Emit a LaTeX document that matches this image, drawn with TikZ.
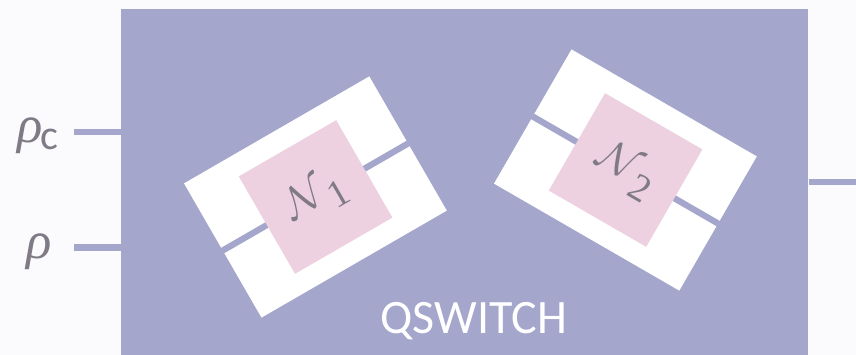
\documentclass[tikz,border=0pt]{standalone}
\usepackage{amsmath,amssymb}
\usepackage{fontspec}
\setmainfont{Carlito}
\newfontfamily\symfont{Liberation Serif}
\usepackage{xcolor}
\usetikzlibrary{positioning}
\definecolor{pagewhite}{HTML}{FBFBFE}
\definecolor{switchblue}{HTML}{A5A6CC}
\definecolor{gatepink}{HTML}{EDD1E0}
\definecolor{labelgray}{HTML}{7F7A85}
\tikzset{
  wire/.style={switchblue,line width=0.125cm},
  switchbox/.style={fill=switchblue,inner sep=0pt,minimum width=13.75cm,minimum height=6.92cm},
  slotbox/.style={fill=white,inner sep=0pt,minimum width=4.28cm,minimum height=3.10cm},
  gatebox/.style={fill=gatepink,inner sep=0pt,minimum size=2.25cm,text=labelgray,font=\fontsize{32}{35}\selectfont},
  inlab/.style={text=labelgray,font=\fontsize{30}{33}\selectfont},
}
\newcommand{\rhosym}{{\symfont\itshape ρ}}
\newcommand{\gatelab}[1]{$\mathcal{N}$\raisebox{-7pt}{\fontsize{22}{24}\selectfont\symfont #1}}

\begin{document}
\begin{tikzpicture}[x=0.02cm,y=-0.02cm]
    \useasboundingbox (0,0) rectangle (856,355);
    \fill[pagewhite] (0,0) rectangle (856,355);
    \node[switchbox] (qswitch) at (464.6,182){};
    % free ends of the wires
    \coordinate (inC) at (74,132);
    \coordinate (inR) at (74,247.5);
    \coordinate (outQ) at (856,182);
    \draw[wire] (inC) -- (inC -| qswitch.west);
    \draw[wire] (inR) -- (inR -| qswitch.west);
    \draw[wire] (qswitch.east |- outQ) -- (outQ);
    \node[inlab] (labC) at (38,136){\rhosym\kern-1pt\raisebox{-4pt}{\fontsize{24}{26}\selectfont c}};
    \node[inlab] (labR) at (39,252){\rhosym};
    % first slot
    \node[slotbox,rotate=30] (slotA) at (315.4,197){};
    \draw[wire] (slotA.west) -- (slotA.east);
    \node[gatebox,rotate=30] (gateA) at (315.6,197){\gatelab{1}};
    % second slot
    \node[slotbox,rotate=-30] (slotB) at (625.4,170){};
    \draw[wire] (slotB.west) -- (slotB.east);
    \node[gatebox,rotate=-30] (gateB) at (625.6,170){\gatelab{2}};
    \node[text=white,font=\fontsize{27.3}{30}\selectfont] (title) at (474,321.5){QSWITCH};
\end{tikzpicture}
\end{document}
